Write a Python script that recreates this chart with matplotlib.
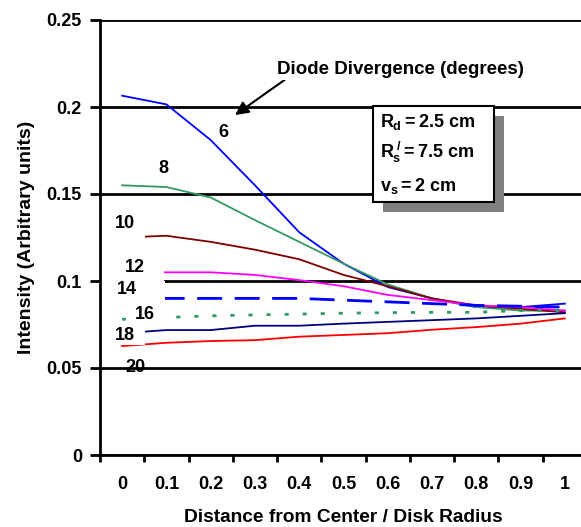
import numpy as np
import matplotlib
matplotlib.use('Agg')
import matplotlib.pyplot as plt
from matplotlib.patches import Rectangle

plt.rcParams['font.family'] = 'Liberation Sans'
plt.rcParams['font.weight'] = 'bold'
plt.rcParams['axes.labelweight'] = 'bold'
plt.rcParams['mathtext.fontset'] = 'custom'
plt.rcParams['mathtext.rm'] = 'Liberation Sans:bold'
plt.rcParams['mathtext.it'] = 'Liberation Sans:bold'
plt.rcParams['mathtext.bf'] = 'Liberation Sans:bold'

categories = ['0', '0.1', '0.2', '0.3', '0.4', '0.5', '0.6', '0.7', '0.8', '0.9', '1']

div6 = [0.2065, 0.2015, 0.181, 0.155, 0.128, 0.110, 0.0965, 0.090, 0.085, 0.085, 0.087]
div8 = [0.155, 0.154, 0.148, 0.135, 0.1225, 0.110, 0.098, 0.090, 0.085, 0.083, 0.083]
div10 = [0.125, 0.126, 0.1225, 0.118, 0.1125, 0.1035, 0.097, 0.090, 0.086, 0.084, 0.082]
div12 = [0.105, 0.105, 0.105, 0.1035, 0.1005, 0.097, 0.092, 0.089, 0.086, 0.085, 0.083]
div14 = [0.090, 0.090, 0.090, 0.090, 0.090, 0.089, 0.088, 0.087, 0.086, 0.0855, 0.085]
div16 = [0.078, 0.079, 0.080, 0.0805, 0.081, 0.0815, 0.0818, 0.082, 0.082, 0.083, 0.083]
div18 = [0.070, 0.0718, 0.0718, 0.0743, 0.0743, 0.0755, 0.0765, 0.0775, 0.0785, 0.080, 0.0815]
div20 = [0.0626, 0.0645, 0.0655, 0.066, 0.068, 0.069, 0.070, 0.072, 0.0735, 0.0755, 0.0785]

x = np.arange(len(categories))

fig = plt.figure(figsize=(5.81, 5.27), dpi=100)
ax = fig.add_axes([100/581, 72/527, 487/581, 435/527])

ax.plot(x, div6, color='#0000ff', lw=1.3, zorder=3)
ax.plot(x, div8, color='#339966', lw=1.3, zorder=3)
ax.plot(x, div10, color='#800000', lw=1.3, zorder=3)
ax.plot(x, div12, color='#ff00ff', lw=1.3, zorder=3)
ax.plot(x, div14, color='#0000ff', lw=2.0, dashes=(9, 4.5), zorder=3)
ax.plot(x, div16, color='#339966', lw=2.0, dashes=(1.5, 5), zorder=3)
ax.plot(x, div18, color='#000080', lw=1.3, zorder=3)
ax.plot(x, div20, color='#ff0000', lw=1.3, zorder=3)

ax.set_xlim(-0.5, 10.5)
ax.set_ylim(0, 0.25)
ax.set_yticks([0, 0.05, 0.1, 0.15, 0.2, 0.25])
ax.set_yticklabels(['0', '0.05', '0.1', '0.15', '0.2', '0.25'])
ax.set_xticks(x)
ax.set_xticklabels(categories)
ax.set_xticks(np.arange(-0.5, 11, 1), minor=True)
ax.tick_params(axis='x', which='major', length=0, pad=15, labelsize=13)
ax.tick_params(axis='x', which='minor', length=5, width=2, direction='out')
ax.tick_params(axis='y', length=7, width=2, direction='out', pad=6, labelsize=13)

ax.grid(True, axis='y', color='black', lw=2, zorder=1)
ax.set_axisbelow(True)
for s in ['top', 'right']:
    ax.spines[s].set_visible(False)
for s in ['left', 'bottom']:
    ax.spines[s].set_linewidth(2)
    ax.spines[s].set_zorder(5)

ax.set_xlabel('Distance from Center / Disk Radius', fontsize=13.8, fontweight='bold', labelpad=12)
ax.set_ylabel('Intensity (Arbitrary units)', fontsize=14, fontweight='bold', labelpad=8)

# white label areas hiding the line starts (as in the original)
for (x0, x1, y0, y1) in [(-0.5, 0.52, 0.1235, 0.140),
                         (-0.5, 0.95, 0.098, 0.113),
                         (-0.5, 0.97, 0.0875, 0.1),
                         (0.09, 0.97, 0.0764, 0.0856),
                         (-0.5, 0.52, 0.0635, 0.074)]:
    ax.add_patch(Rectangle((x0, y0), x1 - x0, y1 - y0, facecolor='white',
                           edgecolor='none', zorder=3.5))

ax.text(2.28, 0.1856, '6', fontsize=13, ha='center', va='center', zorder=4)
ax.text(0.93, 0.1644, '8', fontsize=13, ha='center', va='center', zorder=4)
ax.text(0.07, 0.1333, '10', fontsize=13, ha='center', va='center', zorder=4)
ax.text(0.29, 0.108, '12', fontsize=13, ha='center', va='center', zorder=4)
ax.text(0.11, 0.0954, '14', fontsize=13, ha='center', va='center', zorder=4)
ax.text(0.52, 0.081, '16', fontsize=13, ha='center', va='center', zorder=4)
ax.text(0.07, 0.0684, '18', fontsize=13, ha='center', va='center', zorder=4)
ax.text(0.29, 0.050, '20', fontsize=13, ha='center', va='center', zorder=4)

ax.annotate('Diode Divergence (degrees)', xy=(2.55, 0.1954), xytext=(6.28, 0.2213),
            fontsize=13.5, ha='center', va='center', zorder=6,
            bbox=dict(facecolor='white', edgecolor='none', pad=1),
            arrowprops=dict(arrowstyle='-|>', color='black', lw=1.5,
                            mutation_scale=20, shrinkA=0, shrinkB=0,
                            relpos=(0.05, 0.1)))

# parameter box with shadow
ax.add_patch(Rectangle((5.67 + 0.226, 0.1454 - 0.00575), 2.73, 0.0552,
                       facecolor='#808080', edgecolor='none', zorder=6))
ax.add_patch(Rectangle((5.67, 0.1454), 2.73, 0.0552,
                       facecolor='white', edgecolor='black', lw=1.5, zorder=7))
ax.text(5.82, 0.1914, r'$R_d = 2.5\ cm$', fontsize=13, va='center', zorder=8)
ax.text(5.82, 0.1736, r'$R_s^{\,/} = 7.5\ cm$', fontsize=13, va='center', zorder=8)
ax.text(5.82, 0.1546, r'$v_s = 2\ cm$', fontsize=13, va='center', zorder=8)

fig.savefig('out.png', dpi=100)
